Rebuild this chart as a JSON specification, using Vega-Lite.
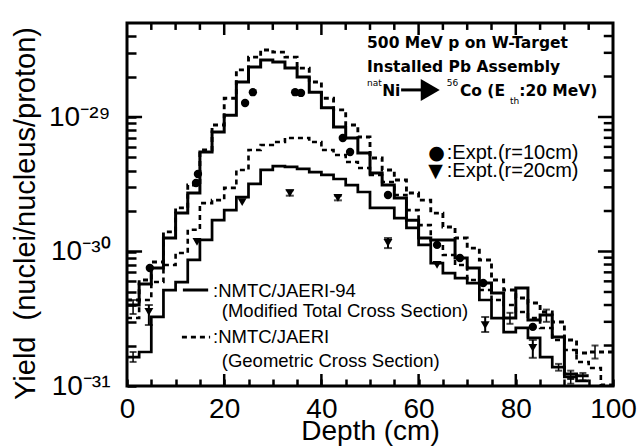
{
  "$schema": "https://vega.github.io/schema/vega-lite/v6.json",
  "width": 486,
  "height": 363,
  "autosize": {"type": "none"},
  "padding": {"left": 127, "top": 23, "right": 29, "bottom": 62},
  "background": "white",
  "config": {
    "view": {"stroke": "black", "strokeWidth": 3},
    "font": "Liberation Sans",
    "axis": {"labelColor": "black", "titleColor": "black", "tickColor": "black", "grid": false, "domain": false}
  },
  "datasets": {
    "calc": [
      {"x": 0, "a": 4.00e-31, "b": 4.36e-31, "c": 1.64e-31, "d": 3.20e-31},
      {"x": 2.5, "a": 5.73e-31, "b": 6.14e-31, "c": 1.79e-31, "d": 4.36e-31},
      {"x": 5, "a": 7.54e-31, "b": 8.36e-31, "c": 3.26e-31, "d": 5.93e-31},
      {"x": 7.5, "a": 1.26e-30, "b": 1.40e-30, "c": 5.17e-31, "d": 7.94e-31},
      {"x": 10, "a": 1.93e-30, "b": 2.11e-30, "c": 5.93e-31, "d": 9.75e-31},
      {"x": 12.5, "a": 2.72e-30, "b": 3.12e-30, "c": 8.65e-31, "d": 1.45e-30},
      {"x": 15, "a": 5.49e-30, "b": 5.68e-30, "c": 1.22e-30, "d": 2.29e-30},
      {"x": 17.5, "a": 7.73e-30, "b": 8.72e-30, "c": 1.71e-30, "d": 2.41e-30},
      {"x": 20, "a": 1.03e-29, "b": 1.38e-29, "c": 2.03e-30, "d": 2.97e-30},
      {"x": 22.5, "a": 1.82e-29, "b": 2.24e-29, "c": 2.54e-30, "d": 4.04e-30},
      {"x": 25, "a": 2.35e-29, "b": 2.79e-29, "c": 3.18e-30, "d": 5.68e-30},
      {"x": 27.5, "a": 2.65e-29, "b": 3.15e-29, "c": 4.04e-30, "d": 6.19e-30},
      {"x": 30, "a": 2.56e-29, "b": 3.04e-29, "c": 4.32e-30, "d": 6.52e-30},
      {"x": 32.5, "a": 2.31e-29, "b": 2.79e-29, "c": 4.25e-30, "d": 6.98e-30},
      {"x": 35, "a": 1.98e-29, "b": 2.31e-29, "c": 4.11e-30, "d": 6.98e-30},
      {"x": 37.5, "a": 1.53e-29, "b": 1.82e-29, "c": 3.90e-30, "d": 6.52e-30},
      {"x": 40, "a": 1.17e-29, "b": 1.38e-29, "c": 3.71e-30, "d": 5.68e-30},
      {"x": 42.5, "a": 8.43e-30, "b": 1.13e-29, "c": 3.46e-30, "d": 5.22e-30},
      {"x": 45, "a": 6.98e-30, "b": 8.72e-30, "c": 3.12e-30, "d": 4.63e-30},
      {"x": 47.5, "a": 5.40e-30, "b": 7.10e-30, "c": 2.77e-30, "d": 4.18e-30},
      {"x": 50, "a": 3.83e-30, "b": 4.96e-30, "c": 2.11e-30, "d": 3.71e-30},
      {"x": 52.5, "a": 3.12e-30, "b": 4.04e-30, "c": 2.11e-30, "d": 3.29e-30},
      {"x": 55, "a": 2.50e-30, "b": 3.40e-30, "c": 1.77e-30, "d": 2.63e-30},
      {"x": 57.5, "a": 1.71e-30, "b": 2.72e-30, "c": 1.50e-30, "d": 2.03e-30},
      {"x": 60, "a": 1.26e-30, "b": 2.41e-30, "c": 1.12e-30, "d": 1.57e-30},
      {"x": 62.5, "a": 1.22e-30, "b": 1.93e-30, "c": 8.21e-31, "d": 1.12e-30},
      {"x": 65, "a": 1.22e-30, "b": 1.52e-30, "c": 6.92e-31, "d": 9.42e-31},
      {"x": 67.5, "a": 8.95e-31, "b": 1.26e-30, "c": 6.35e-31, "d": 7.94e-31},
      {"x": 70, "a": 7.54e-31, "b": 1.06e-30, "c": 5.83e-31, "d": 6.14e-31},
      {"x": 72.5, "a": 5.83e-31, "b": 8.65e-31, "c": 4.36e-31, "d": 5.17e-31},
      {"x": 75, "a": 4.91e-31, "b": 6.14e-31, "c": 3.20e-31, "d": 4.36e-31},
      {"x": 77.5, "a": 3.20e-31, "b": 5.17e-31, "c": 2.52e-31, "d": 4.00e-31},
      {"x": 80, "a": 5.35e-31, "b": 4.51e-31, "c": 2.70e-31, "d": 3.55e-31},
      {"x": 82.5, "a": 3.10e-31, "b": 4.14e-31, "c": 2.28e-31, "d": 3.20e-31},
      {"x": 85, "a": 3.37e-31, "b": 3.55e-31, "c": 1.64e-31, "d": 2.70e-31},
      {"x": 87.5, "a": 2.31e-31, "b": 2.99e-31, "c": 1.38e-31, "d": 2.20e-31},
      {"x": 90, "a": 1.23e-31, "b": 2.20e-31, "c": 1.17e-31, "d": 1.85e-31},
      {"x": 92.5, "a": 1.19e-31, "b": 1.76e-31, "c": 1.09e-31, "d": 1.51e-31},
      {"x": 95, "a": 1.19e-31, "b": 1.79e-31, "c": 1.09e-31, "d": 1.36e-31},
      {"x": 97.5, "a": null, "b": 1.79e-31, "c": null, "d": 1.02e-31},
      {"x": 100, "a": null, "b": 1.79e-31, "c": null, "d": 1.02e-31}
    ],
    "expt10": [
      {"x": 4.7, "y": 7.54e-31},
      {"x": 14.6, "y": 3.77e-30},
      {"x": 14.2, "y": 3.23e-30},
      {"x": 24.3, "y": 1.27e-29},
      {"x": 25.9, "y": 1.53e-29},
      {"x": 34.6, "y": 1.53e-29},
      {"x": 35.8, "y": 1.51e-29},
      {"x": 44.4, "y": 6.98e-30},
      {"x": 45.9, "y": 5.49e-30},
      {"x": 53.7, "y": 2.63e-30},
      {"x": 63.8, "y": 1.12e-30},
      {"x": 68.5, "y": 8.95e-31},
      {"x": 73.3, "y": 5.83e-31},
      {"x": 83.5, "y": 2.75e-31}
    ],
    "expt20": [
      {"x": 4.5, "y": 3.55e-31},
      {"x": 14.4, "y": 1.18e-30},
      {"x": 23.7, "y": 2.33e-30},
      {"x": 33.5, "y": 2.72e-30},
      {"x": 43.4, "y": 2.50e-30},
      {"x": 53.7, "y": 1.16e-30},
      {"x": 63.8, "y": 7.94e-31},
      {"x": 73.7, "y": 2.84e-31},
      {"x": 83.5, "y": 1.92e-31}
    ],
    "exptErr": [
      {"x": 4.5, "lo": 2.84e-31, "hi": 4.00e-31},
      {"x": 33.5, "lo": 2.60e-30, "hi": 2.85e-30},
      {"x": 43.4, "lo": 2.40e-30, "hi": 2.60e-30},
      {"x": 53.7, "lo": 1.06e-30, "hi": 1.26e-30},
      {"x": 73.7, "lo": 2.52e-31, "hi": 3.26e-31},
      {"x": 83.5, "lo": 1.62e-31, "hi": 2.20e-31}
    ],
    "calcErr": [
      {"x": 1.25, "lo": 3.43e-31, "hi": 4.36e-31},
      {"x": 1.25, "lo": 1.51e-31, "hi": 1.79e-31},
      {"x": 78.8, "lo": 2.90e-31, "hi": 3.50e-31},
      {"x": 86.3, "lo": 3.00e-31, "hi": 3.70e-31},
      {"x": 88.8, "lo": 1.30e-31, "hi": 1.46e-31},
      {"x": 91.3, "lo": 1.13e-31, "hi": 1.30e-31},
      {"x": 91.3, "lo": 1.04e-31, "hi": 1.13e-31},
      {"x": 93.8, "lo": 1.10e-31, "hi": 1.25e-31},
      {"x": 96.3, "lo": 1.60e-31, "hi": 2.00e-31}
    ],
    "depthFrameTicks": [
      {"v": 5, "edge": 5e-29, "inner": 4.44e-29}, {"v": 10, "edge": 5e-29, "inner": 4.44e-29},
      {"v": 15, "edge": 5e-29, "inner": 4.44e-29}, {"v": 20, "edge": 5e-29, "inner": 4.07e-29},
      {"v": 25, "edge": 5e-29, "inner": 4.44e-29}, {"v": 30, "edge": 5e-29, "inner": 4.44e-29},
      {"v": 35, "edge": 5e-29, "inner": 4.44e-29}, {"v": 40, "edge": 5e-29, "inner": 4.07e-29},
      {"v": 45, "edge": 5e-29, "inner": 4.44e-29}, {"v": 50, "edge": 5e-29, "inner": 4.44e-29},
      {"v": 55, "edge": 5e-29, "inner": 4.44e-29}, {"v": 60, "edge": 5e-29, "inner": 4.07e-29},
      {"v": 65, "edge": 5e-29, "inner": 4.44e-29}, {"v": 70, "edge": 5e-29, "inner": 4.44e-29},
      {"v": 75, "edge": 5e-29, "inner": 4.44e-29}, {"v": 80, "edge": 5e-29, "inner": 4.07e-29},
      {"v": 85, "edge": 5e-29, "inner": 4.44e-29}, {"v": 90, "edge": 5e-29, "inner": 4.44e-29},
      {"v": 95, "edge": 5e-29, "inner": 4.44e-29},
      {"v": 20, "edge": 1e-31, "inner": 1.228e-31}, {"v": 40, "edge": 1e-31, "inner": 1.228e-31},
      {"v": 60, "edge": 1e-31, "inner": 1.228e-31}, {"v": 80, "edge": 1e-31, "inner": 1.228e-31}
    ],
    "yieldFrameTicks": [
      {"v": 2e-31, "edge": 100, "inner": 98.1}, {"v": 3e-31, "edge": 100, "inner": 98.1},
      {"v": 4e-31, "edge": 100, "inner": 98.1}, {"v": 5e-31, "edge": 100, "inner": 98.1},
      {"v": 6e-31, "edge": 100, "inner": 98.1}, {"v": 7e-31, "edge": 100, "inner": 98.1},
      {"v": 8e-31, "edge": 100, "inner": 98.1}, {"v": 9e-31, "edge": 100, "inner": 98.1},
      {"v": 1e-30, "edge": 100, "inner": 96.9},
      {"v": 2e-30, "edge": 100, "inner": 98.1}, {"v": 3e-30, "edge": 100, "inner": 98.1},
      {"v": 4e-30, "edge": 100, "inner": 98.1}, {"v": 5e-30, "edge": 100, "inner": 98.1},
      {"v": 6e-30, "edge": 100, "inner": 98.1}, {"v": 7e-30, "edge": 100, "inner": 98.1},
      {"v": 8e-30, "edge": 100, "inner": 98.1}, {"v": 9e-30, "edge": 100, "inner": 98.1},
      {"v": 1e-29, "edge": 100, "inner": 96.9},
      {"v": 2e-29, "edge": 100, "inner": 98.1}, {"v": 3e-29, "edge": 100, "inner": 98.1},
      {"v": 4e-29, "edge": 100, "inner": 98.1},
      {"v": 1e-30, "edge": 0, "inner": 3.1}, {"v": 1e-29, "edge": 0, "inner": 3.1}
    ],
    "headline": [
      {"x": 49.4, "y": 3.26e-29, "t": "500 MeV p on W-Target"},
      {"x": 49.4, "y": 2.16e-29, "t": "Installed Pb Assembly"},
      {"x": 52.5, "y": 1.43e-29, "t": "Ni"},
      {"x": 68.5, "y": 1.43e-29, "t": "Co (E"},
      {"x": 80.7, "y": 1.43e-29, "t": ":20 MeV)"}
    ],
    "scripts": [
      {"x": 49.4, "y": 1.70e-29, "t": "nat"},
      {"x": 65.8, "y": 1.70e-29, "t": "56"},
      {"x": 78.8, "y": 1.25e-29, "t": "th"}
    ],
    "arrow": [
      {"x": 56.4, "x2": 60.5, "head": 62.4, "y": 1.59e-29}
    ],
    "exptSymbols": [
      {"x": 62.0, "y": 4.87e-30, "t": "●"},
      {"x": 62.0, "y": 3.58e-30, "t": "▼"}
    ],
    "exptKey": [
      {"x": 65.8, "y": 4.87e-30, "t": ":Expt.(r=10cm)"},
      {"x": 65.8, "y": 3.58e-30, "t": ":Expt.(r=20cm)"}
    ],
    "modelKey": [
      {"x": 17.7, "y": 4.59e-31, "t": ":NMTC/JAERI-94"},
      {"x": 19.5, "y": 3.26e-31, "t": "(Modified Total Cross Section)"},
      {"x": 17.7, "y": 2.09e-31, "t": ":NMTC/JAERI"},
      {"x": 19.5, "y": 1.38e-31, "t": "(Geometric Cross Section)"}
    ],
    "modelKeyLines": [
      {"series": "a", "x": 11.5, "x2": 16.7, "y": 5.17e-31},
      {"series": "b", "x": 11.3, "x2": 17.1, "y": 2.31e-31}
    ]
  },
  "layer": [
    {
      "data": {"name": "calc"},
      "transform": [
        {"fold": ["a", "b", "c", "d"], "as": ["series", "yield"]},
        {"filter": "isValid(datum.yield)"}
      ],
      "mark": {"type": "line", "interpolate": "step-after", "color": "black", "strokeCap": "butt"},
      "encoding": {
        "x": {
          "field": "x", "type": "quantitative",
          "scale": {"domain": [0, 100], "nice": false, "zero": false},
          "axis": {
            "orient": "bottom",
            "values": [0, 5, 10, 15, 20, 25, 30, 35, 40, 45, 50, 55, 60, 65, 70, 75, 80, 85, 90, 95, 100],
            "ticks": true, "tickSize": 7, "tickWidth": 2.5, "offset": -7,
            "labelExpr": "datum.value % 20 == 0 ? datum.label : ''",
            "labelFontSize": 28, "labelFont": "Liberation Sans", "labelPadding": 31,
            "labelBaseline": "alphabetic", "labelFlush": false, "labelOverlap": false,
            "title": "Depth (cm)", "titleFont": "Liberation Sans", "titleFontSize": 28,
            "titleFontWeight": "normal", "titleX": 243, "titleY": 60, "titleBaseline": "alphabetic"
          }
        },
        "y": {
          "field": "yield", "type": "quantitative",
          "scale": {"type": "log", "domain": [1e-31, 5e-29], "nice": false},
          "axis": {
            "orient": "left",
            "values": [1e-31, 2e-31, 3e-31, 4e-31, 5e-31, 6e-31, 7e-31, 8e-31, 9e-31, 1e-30, 2e-30, 3e-30, 4e-30, 5e-30, 6e-30, 7e-30, 8e-30, 9e-30, 1e-29, 2e-29, 3e-29, 4e-29],
            "ticks": true, "tickSize": 9, "tickWidth": 2.5, "offset": -9,
            "labelExpr": "datum.value < 1.5e-31 ? '10⁻³¹' : (datum.value > 0.95e-30 && datum.value < 1.05e-30) ? '10⁻³⁰' : (datum.value > 0.95e-29 && datum.value < 1.05e-29) ? '10⁻²⁹' : ''",
            "labelFontSize": 28, "labelFont": "Liberation Sans", "labelPadding": 17,
            "labelBaseline": "middle", "labelFlush": false, "labelOverlap": false,
            "title": "Yield\u00a0\u00a0(nuclei/nucleus/proton)", "titleFont": "Liberation Sans",
            "titleFontSize": 29, "titleFontWeight": "normal",
            "titleX": -111, "titleY": 190, "titleBaseline": "middle", "titleAlign": "center"
          }
        },
        "detail": {"field": "series"},
        "strokeDash": {
          "field": "series", "type": "nominal",
          "scale": {"domain": ["a", "b", "c", "d"], "range": [[1, 0], [5, 4], [1, 0], [5, 4]]},
          "legend": null
        },
        "strokeWidth": {
          "field": "series", "type": "nominal",
          "scale": {"domain": ["a", "b", "c", "d"], "range": [3, 2.6, 3, 2.6]},
          "legend": null
        }
      }
    },
    {
      "data": {"name": "depthFrameTicks"},
      "mark": {"type": "rule", "strokeWidth": 2.5, "color": "black"},
      "encoding": {
        "x": {"field": "v", "type": "quantitative", "axis": null},
        "y": {"field": "edge", "type": "quantitative", "axis": null},
        "y2": {"field": "inner"}
      }
    },
    {
      "data": {"name": "yieldFrameTicks"},
      "mark": {"type": "rule", "strokeWidth": 2.5, "color": "black"},
      "encoding": {
        "y": {"field": "v", "type": "quantitative", "axis": null},
        "x": {"field": "edge", "type": "quantitative", "axis": null},
        "x2": {"field": "inner"}
      }
    },
    {
      "data": {"name": "expt10"},
      "mark": {"type": "point", "shape": "circle", "filled": true, "color": "black", "opacity": 1, "size": 70},
      "encoding": {
        "x": {"field": "x", "type": "quantitative", "axis": null},
        "y": {"field": "y", "type": "quantitative", "axis": null}
      }
    },
    {
      "data": {"name": "expt20"},
      "mark": {"type": "point", "shape": "triangle-down", "filled": true, "color": "black", "opacity": 1, "size": 80},
      "encoding": {
        "x": {"field": "x", "type": "quantitative", "axis": null},
        "y": {"field": "y", "type": "quantitative", "axis": null}
      }
    },
    {
      "data": {"name": "exptErr"},
      "mark": {"type": "errorbar", "color": "black", "ticks": {"size": 8, "thickness": 2, "color": "black"}, "rule": {"strokeWidth": 2}},
      "encoding": {
        "x": {"field": "x", "type": "quantitative", "axis": null},
        "y": {"field": "lo", "type": "quantitative", "axis": null},
        "y2": {"field": "hi"}
      }
    },
    {
      "data": {"name": "calcErr"},
      "mark": {"type": "errorbar", "color": "black", "ticks": {"size": 7, "thickness": 2, "color": "black"}, "rule": {"strokeWidth": 1.5}},
      "encoding": {
        "x": {"field": "x", "type": "quantitative", "axis": null},
        "y": {"field": "lo", "type": "quantitative", "axis": null},
        "y2": {"field": "hi"}
      }
    },
    {
      "data": {"name": "modelKeyLines"},
      "mark": {"type": "rule", "color": "black", "strokeCap": "butt"},
      "encoding": {
        "x": {"field": "x", "type": "quantitative", "axis": null},
        "x2": {"field": "x2"},
        "y": {"field": "y", "type": "quantitative", "axis": null},
        "strokeDash": {
          "field": "series", "type": "nominal",
          "scale": {"domain": ["a", "b", "c", "d"], "range": [[1, 0], [5, 4], [1, 0], [5, 4]]},
          "legend": null
        },
        "strokeWidth": {
          "field": "series", "type": "nominal",
          "scale": {"domain": ["a", "b", "c", "d"], "range": [3, 2.6, 3, 2.6]},
          "legend": null
        }
      }
    },
    {
      "data": {"name": "modelKey"},
      "mark": {"type": "text", "align": "left", "baseline": "alphabetic", "font": "Liberation Sans", "fontSize": 18.5, "color": "black"},
      "encoding": {
        "x": {"field": "x", "type": "quantitative", "axis": null},
        "y": {"field": "y", "type": "quantitative", "axis": null},
        "text": {"field": "t"}
      }
    },
    {
      "data": {"name": "exptSymbols"},
      "mark": {"type": "text", "align": "left", "baseline": "alphabetic", "font": "DejaVu Sans", "fontSize": 19, "color": "black"},
      "encoding": {
        "x": {"field": "x", "type": "quantitative", "axis": null},
        "y": {"field": "y", "type": "quantitative", "axis": null},
        "text": {"field": "t"}
      }
    },
    {
      "data": {"name": "exptKey"},
      "mark": {"type": "text", "align": "left", "baseline": "alphabetic", "font": "Liberation Sans", "fontSize": 20, "color": "black"},
      "encoding": {
        "x": {"field": "x", "type": "quantitative", "axis": null},
        "y": {"field": "y", "type": "quantitative", "axis": null},
        "text": {"field": "t"}
      }
    },
    {
      "data": {"name": "headline"},
      "mark": {"type": "text", "align": "left", "baseline": "alphabetic", "font": "DejaVu Sans", "fontWeight": "bold", "fontSize": 15.5, "color": "black"},
      "encoding": {
        "x": {"field": "x", "type": "quantitative", "axis": null},
        "y": {"field": "y", "type": "quantitative", "axis": null},
        "text": {"field": "t"}
      }
    },
    {
      "data": {"name": "scripts"},
      "mark": {"type": "text", "align": "left", "baseline": "alphabetic", "font": "DejaVu Sans", "fontSize": 9, "color": "black"},
      "encoding": {
        "x": {"field": "x", "type": "quantitative", "axis": null},
        "y": {"field": "y", "type": "quantitative", "axis": null},
        "text": {"field": "t"}
      }
    },
    {
      "data": {"name": "arrow"},
      "mark": {"type": "rule", "color": "black", "strokeWidth": 3},
      "encoding": {
        "x": {"field": "x", "type": "quantitative", "axis": null},
        "x2": {"field": "x2"},
        "y": {"field": "y", "type": "quantitative", "axis": null}
      }
    },
    {
      "data": {"name": "arrow"},
      "mark": {"type": "point", "shape": "triangle-right", "filled": true, "color": "black", "opacity": 1, "size": 480},
      "encoding": {
        "x": {"field": "head", "type": "quantitative", "axis": null},
        "y": {"field": "y", "type": "quantitative", "axis": null}
      }
    }
  ],
  "resolve": {"axis": {"x": "independent", "y": "independent"}}
}
